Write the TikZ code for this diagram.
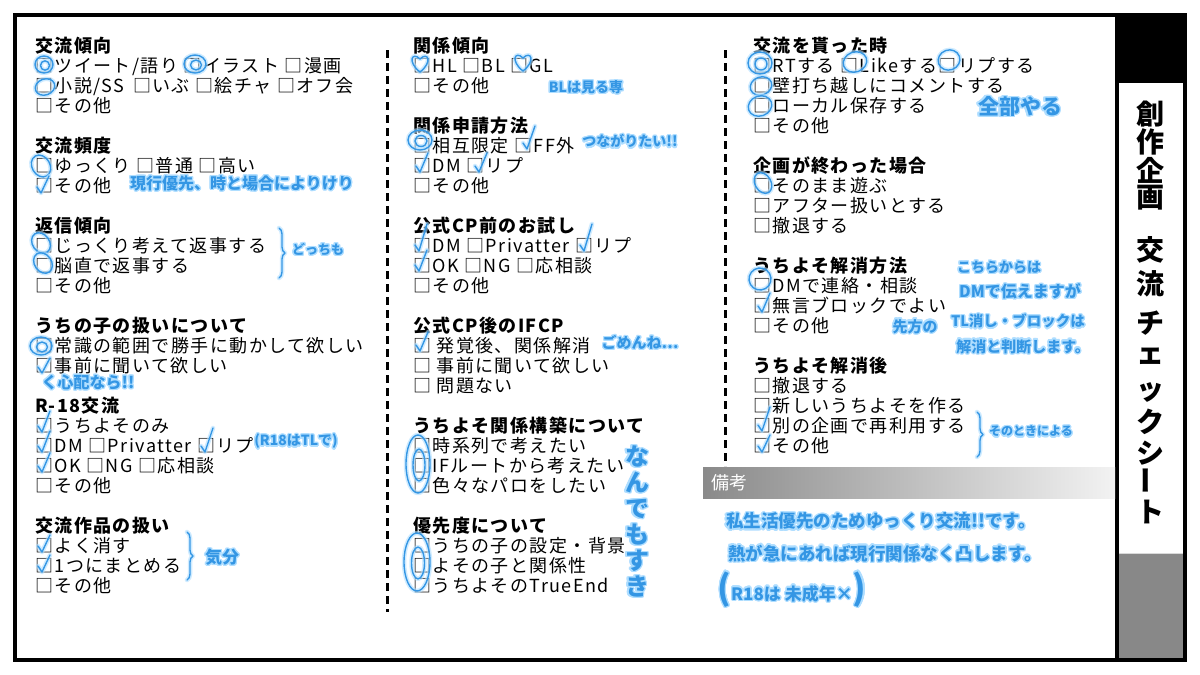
\documentclass[tikz,border=0pt]{standalone}
\usepackage{fontspec}
\usepackage{contour}
\setmainfont{Noto Sans CJK JP}
\newfontfamily\itemfont{Noto Sans CJK JP}[LetterSpace=8]
\usetikzlibrary{decorations.pathreplacing}
\definecolor{handcol}{RGB}{52,150,228}
\definecolor{glowcol}{RGB}{175,222,255}
\definecolor{barfill}{RGB}{136,136,136}
\contourlength{1.3pt}
\contournumber{20}
\newcommand\glow[1]{\contour{glowcol}{#1}}
\newcommand\myfs[1]{\fontsize{#1}{#1}\selectfont}
\newcommand\mychk[3]{\draw[hand] (#1-6,#2+1) -- (#1-2,#2+7) -- (#1+6,#2-#3);}
\newcommand\myring[5]{\draw[hand,rotate around={#5:(#1,#2)}] (#1,#2) ellipse [x radius=#3, y radius=#4];}
\newcommand\mydring[4]{\draw[hand] (#1,#2) ellipse [x radius=#3, y radius=#4];
  \draw[hand] (#1+1,#2+1) ellipse [x radius=#3*0.5, y radius=#4*0.55];}
\newcommand\myheart[2]{\draw[hand] (#1,#2+9) .. controls (#1-13,#2-1) and (#1-8,#2-12) .. (#1,#2-4) .. controls (#1+8,#2-12) and (#1+13,#2-1) .. (#1,#2+9);}
\begin{document}
\begin{tikzpicture}[x=1pt,y=-1pt,
  itm/.style={anchor=base west, inner sep=0pt, font=\itemfont\myfs{18}},
  hdr/.style={anchor=base west, inner sep=0pt, font=\itemfont\bfseries\myfs{18}},
  note/.style={inner sep=0pt, text=handcol, font=\bfseries\myfs{#1}},
  hand/.style={draw=handcol, line width=1.4pt, line cap=round, line join=round,
     preaction={draw=glowcol, line width=4.5pt, line cap=round, line join=round, opacity=0.6}},
  sepline/.style={line width=3pt, dash pattern=on 8pt off 5pt},
  frame/.style={line width=4pt},
  ttl/.style={inner sep=0pt, font=\bfseries\myfs{28}},
  hbrace/.style={hand, decorate, decoration={brace, amplitude=6pt}}
]
\useasboundingbox (0,0) rectangle (1200,675);
\fill[white] (0,0) rectangle (1200,675);

% right title bar
\fill[black] (1117,15) rectangle (1185,83);
\fill[barfill] (1117,553) rectangle (1185,660);
\draw[black!15, line width=0.6pt] (1119,553) -- (1183,553);
\draw[frame] (15,15) rectangle (1185,660);
\draw[frame] (1117,15) -- (1117,660);

\foreach \c/\yy [count=\i] in {創/114,作/142,企/170,画/198,交/250,流/284,チ/323,ェ/356,ッ/392,ク/422,シ/453,ト/512}
  \node[ttl] (t\i) at (1150,\yy) {\c};
\node[ttl, rotate=90] (tbar) at (1150,480) {ー};

% separators
\coordinate (s1t) at (387,50); \coordinate (s1b) at (387,612);
\coordinate (s2t) at (725,50); \coordinate (s2b) at (725,466);
\draw[sepline] (s1t) -- (s1b);
\draw[sepline] (s2t) -- (s2b);

% remarks bar
\shade[left color=black!46, right color=black!5] (703,467) rectangle (1115,498);
\node[anchor=base west, inner sep=0pt, text=white, font=\myfs{18}] (bikou) at (711,489) {備考};

% ---------- column 1 ----------
\node[hdr] (a0) at (35,52) {交流傾向};
\node[itm] (a1) at (35,72) {□ツイート/語り □イラスト □漫画};
\node[itm] (a2) at (35,92) {□小説/SS \,□いぶ □絵チャ □オフ会};
\node[itm] (a3) at (35,112) {□その他};
\node[hdr] (a5) at (35,152) {交流頻度};
\node[itm] (a6) at (35,172) {□ゆっくり □普通 □高い};
\node[itm] (a7) at (35,192) {□その他};
\node[hdr] (a9) at (35,232) {返信傾向};
\node[itm] (a10) at (35,252) {□じっくり考えて返事する};
\node[itm] (a11) at (35,272) {□脳直で返事する};
\node[itm] (a12) at (35,292) {□その他};
\node[hdr] (a14) at (35,332) {うちの子の扱いについて};
\node[itm] (a15) at (35,352) {□常識の範囲で勝手に動かして欲しい};
\node[itm] (a16) at (35,372) {□事前に聞いて欲しい};
\node[hdr] (a18) at (35,412) {R-18交流};
\node[itm] (a19) at (35,432) {□うちよそのみ};
\node[itm] (a20) at (35,452) {□DM □Privatter □リプ};
\node[itm] (a21) at (35,472) {□OK □NG □応相談};
\node[itm] (a22) at (35,492) {□その他};
\node[hdr] (a24) at (35,532) {交流作品の扱い};
\node[itm] (a25) at (35,552) {□よく消す};
\node[itm] (a26) at (35,572) {□1つにまとめる};
\node[itm] (a27) at (35,592) {□その他};

% ---------- column 2 ----------
\node[hdr] (b0) at (413,52) {関係傾向};
\node[itm] (b1) at (413,72) {□HL □BL □GL};
\node[itm] (b2) at (413,92) {□その他};
\node[hdr] (b4) at (413,132) {関係申請方法};
\node[itm] (b5) at (413,152) {□相互限定 □FF外};
\node[itm] (b6) at (413,172) {□DM □リプ};
\node[itm] (b7) at (413,192) {□その他};
\node[hdr] (b9) at (413,232) {公式CP前のお試し};
\node[itm] (b10) at (413,252) {□DM □Privatter □リプ};
\node[itm] (b11) at (413,272) {□OK □NG □応相談};
\node[itm] (b12) at (413,292) {□その他};
\node[hdr] (b14) at (413,332) {公式CP後のIFCP};
\node[itm] (b15) at (413,352) {□ 発覚後、関係解消};
\node[itm] (b16) at (413,372) {□ 事前に聞いて欲しい};
\node[itm] (b17) at (413,392) {□ 問題ない};
\node[hdr] (b19) at (413,432) {うちよそ関係構築について};
\node[itm] (b20) at (413,452) {□時系列で考えたい};
\node[itm] (b21) at (413,472) {□IFルートから考えたい};
\node[itm] (b22) at (413,492) {□色々なパロをしたい};
\node[hdr] (b24) at (413,532) {優先度について};
\node[itm] (b25) at (413,552) {□うちの子の設定・背景};
\node[itm] (b26) at (413,572) {□よその子と関係性};
\node[itm] (b27) at (413,592) {□うちよそのTrueEnd};

% ---------- column 3 ----------
\node[hdr] (c0) at (753,52) {交流を貰った時};
\node[itm] (c1) at (753,72) {□RTする □Likeする□リプする};
\node[itm] (c2) at (753,92) {□壁打ち越しにコメントする};
\node[itm] (c3) at (753,112) {□ローカル保存する};
\node[itm] (c4) at (753,132) {□その他};
\node[hdr] (c6) at (753,172) {企画が終わった場合};
\node[itm] (c7) at (753,192) {□そのまま遊ぶ};
\node[itm] (c8) at (753,212) {□アフター扱いとする};
\node[itm] (c9) at (753,232) {□撤退する};
\node[hdr] (c11) at (753,272) {うちよそ解消方法};
\node[itm] (c12) at (753,292) {□DMで連絡・相談};
\node[itm] (c13) at (753,312) {□無言ブロックでよい};
\node[itm] (c14) at (753,332) {□その他};
\node[hdr] (c16) at (753,372) {うちよそ解消後};
\node[itm] (c17) at (753,392) {□撤退する};
\node[itm] (c18) at (753,412) {□新しいうちよそを作る};
\node[itm] (c19) at (753,432) {□別の企画で再利用する};
\node[itm] (c20) at (753,452) {□その他};

% ---------- handwritten marks ----------
\mydring{44}{64.5}{9}{8.5}
\mydring{195}{64}{11}{9}
\myring{45}{87}{10}{8}{20}
\myring{41}{166}{9}{11.5}{30}
\mychk{43}{186}{10}
\myring{41}{243}{8.5}{11}{35}
\myring{43}{263}{8.5}{11}{35}
\mydring{41}{346}{11}{9}
\mychk{44}{366}{8}
\mychk{44}{425}{14}
\mychk{44}{445}{14}
\mychk{207}{445}{17}
\mychk{44}{465}{12}
\mychk{44}{545}{10}
\mychk{44}{565}{10}

\myheart{420}{63}
\myheart{523}{62}
\mydring{420}{140}{12}{10}
\mychk{529}{142}{16}
\mychk{422}{165}{12}
\mychk{481}{165}{12}
\mychk{421}{244}{20}
\mychk{586}{244}{20}
\mychk{421}{264}{14}
\mychk{422}{344}{12}
\mydring{418}{464}{12}{29}
\mydring{417}{562}{13}{29}

\mydring{760}{63}{12}{11}
\myring{855}{62}{12}{10}{20}
\myring{949}{60}{11}{10}{20}
\myring{761}{86}{11}{9}{20}
\myring{760}{106}{12}{10}{20}
\myring{763}{183}{8}{11}{30}
\myring{760}{279}{11}{11}{30}
\mychk{764}{305}{12}
\mychk{764}{424}{17}
\mychk{764}{445}{10}

% braces
\coordinate (br1a) at (279,228); \coordinate (br1b) at (279,278);
\coordinate (br2a) at (187,532); \coordinate (br2b) at (187,580);
\coordinate (br3a) at (977,412); \coordinate (br3b) at (977,457);
\draw[hbrace] (br1a) -- (br1b);
\draw[hbrace] (br2a) -- (br2b);
\draw[hbrace] (br3a) -- (br3b);

% ---------- handwritten notes ----------
\node[note=16] (n1) at (242,184) {\glow{現行優先、時と場合によりけり}};
\node[note=13] (n2) at (318,250) {\glow{どっちも}};
\node[note=16] (n3) at (88,383) {\glow{く心配なら!!}};
\node[note=14] (n4) at (296,442) {\glow{(R18はTLで)}};
\node[note=17] (n5) at (222,558) {\glow{気分}};
\node[note=14] (n6) at (586,88) {\glow{BLは見る専}};
\node[note=14] (n7) at (630,142) {\glow{つながりたい!!}};
\node[note=15] (n8) at (640,343) {\glow{ごめんね…}};
\node[note=24, align=center, font=\bfseries\fontsize{24}{26}\selectfont] (n9) at (637,522) {\glow{な}\\\glow{ん}\\\glow{で}\\\glow{も}\\\glow{す}\\\glow{き}};
\node[note=21] (n10) at (1020,107) {\glow{全部やる}};
\node[note=14] (n11) at (999,268) {\glow{こちらからは}};
\node[note=16] (n12) at (1020,292) {\glow{DMで伝えますが}};
\node[note=15] (n13) at (915,327) {\glow{先方の}};
\node[note=14.5] (n14) at (1018,322) {\glow{TL消し・ブロックは}};
\node[note=15] (n15) at (1023,347) {\glow{解消と判断します。}};
\node[note=12] (n16) at (1031,432) {\glow{そのときによる}};
\node[note=17.5] (n17) at (881,522) {\glow{私生活優先のためゆっくり交流!!です。}};
\node[note=17.5] (n18) at (885,554) {\glow{熱が急にあれば現行関係なく凸します。}};
\node[note=17] (n19) at (792,590) {\glow{{\myfs{34}(}R18は 未成年×{\myfs{34})}}};
\end{tikzpicture}
\end{document}
